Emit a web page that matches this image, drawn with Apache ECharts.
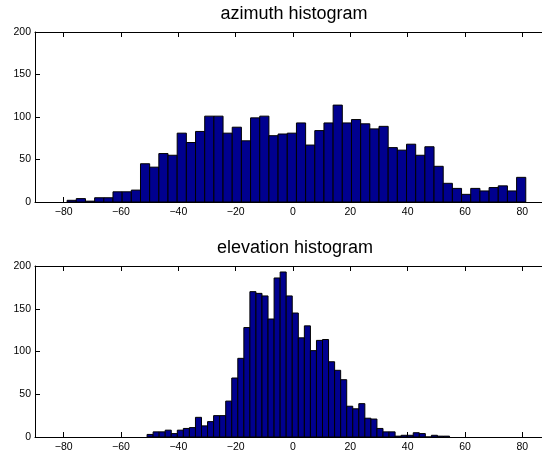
<!DOCTYPE html>
<html><head><meta charset="utf-8">
<script src="https://cdn.jsdelivr.net/npm/echarts@6/dist/echarts.min.js"></script>
<style>html,body{margin:0;padding:0;background:#fff}#c{width:542px;height:452px}</style>
</head><body><div id="c"></div>
<script>
// ---- data ----
const xTicks = [-80, -60, -40, -20, 0, 20, 40, 60, 80];
const yTicks = [0, 50, 100, 150, 200];
const azBinWidth = 3.2;
const azCenters = [-77.2, -74.0, -70.8, -67.6, -64.4, -61.2, -58.0, -54.8, -51.6, -48.4,
  -45.2, -42.0, -38.8, -35.6, -32.4, -29.2, -26.0, -22.8, -19.6, -16.4,
  -13.2, -10.0, -6.8, -3.6, -0.4, 2.8, 6.0, 9.2, 12.4, 15.6,
  18.8, 22.0, 25.2, 28.4, 31.6, 34.8, 38.0, 41.2, 44.4, 47.6,
  50.8, 54.0, 57.2, 60.4, 63.6, 66.8, 70.0, 73.2, 76.4, 79.6];
const azCounts = [2, 4, 1, 5, 5, 12, 12, 14, 45, 41,
  57, 55, 81, 70, 83, 101, 101, 81, 88, 72,
  99, 101, 78, 80, 81, 93, 67, 84, 93, 114,
  93, 97, 92, 86, 89, 64, 61, 68, 55, 65,
  42, 22, 16, 9, 16, 13, 17, 19, 13, 29];
const elBinWidth = 2.11;
const elCenters = [-49.85, -47.74, -45.63, -43.52, -41.41, -39.3, -37.19, -35.08, -32.97, -30.86,
  -28.75, -26.64, -24.53, -22.42, -20.31, -18.2, -16.09, -13.98, -11.87, -9.76,
  -7.65, -5.54, -3.43, -1.32, 0.8, 2.91, 5.02, 7.13, 9.24, 11.35,
  13.46, 15.57, 17.68, 19.79, 21.9, 24.01, 26.12, 28.23, 30.34, 32.45,
  34.56, 36.67, 38.78, 40.89, 43.0, 45.11, 47.22, 49.33, 51.44, 53.55];
const elCounts = [3, 6, 6, 8, 4, 8, 10, 11, 23, 13,
  18, 25, 25, 42, 69, 92, 128, 170, 168, 165,
  138, 186, 193, 165, 145, 116, 130, 101, 113, 114,
  88, 78, 67, 36, 33, 39, 22, 21, 10, 6,
  6, 1, 2, 2, 5, 4, 0, 2, 1, 1];
const titles = ['azimuth histogram', 'elevation histogram'];

// ---- chart ----
const FONT = '"Liberation Sans", Arial, Helvetica, sans-serif';
const fmt = v => String(v).replace('-', '\u2212');
function binData(centers, counts, w) {
  return centers.map((c, i) => [c - w / 2, c + w / 2, counts[i]]);
}
function renderBar(params, api) {
  const p0 = api.coord([api.value(0), 0]);
  const p1 = api.coord([api.value(1), api.value(2)]);
  return {
    type: 'rect',
    shape: { x: p0[0], y: p1[1], width: p1[0] - p0[0], height: p0[1] - p1[1] },
    style: { fill: '#00008F', stroke: '#000000', lineWidth: 1 }
  };
}
const grids = [
  { left: 35, top: 32, width: 516, height: 170, outerBoundsMode: 'none' },
  { left: 35, top: 266, width: 516, height: 171, outerBoundsMode: 'none' }
];
const xAxes = [], yAxes = [];
grids.forEach((g, i) => {
  xAxes.push({
    type: 'value', gridIndex: i, position: 'bottom', min: -90, max: 90,
    axisLine: { show: true, onZero: false, lineStyle: { color: '#000', width: 1 } },
    axisTick: { show: true, inside: true, length: 5, customValues: xTicks, lineStyle: { color: '#000' } },
    axisLabel: { show: true, customValues: xTicks, formatter: fmt, color: '#000', fontSize: 10.5, fontFamily: FONT, margin: 5 },
    splitLine: { show: false }
  });
  xAxes.push({
    type: 'value', gridIndex: i, position: 'top', min: -90, max: 90,
    axisLine: { show: true, onZero: false, lineStyle: { color: '#000', width: 1 } },
    axisTick: { show: true, inside: true, length: 5, customValues: xTicks, lineStyle: { color: '#000' } },
    axisLabel: { show: false },
    splitLine: { show: false }
  });
  yAxes.push({
    type: 'value', gridIndex: i, position: 'left', min: 0, max: 200,
    axisLine: { show: true, onZero: false, lineStyle: { color: '#000', width: 1 } },
    axisTick: { show: true, inside: true, length: 5, customValues: yTicks, lineStyle: { color: '#000' } },
    axisLabel: { show: true, customValues: yTicks, color: '#000', fontSize: 10.5, fontFamily: FONT, margin: 4 },
    splitLine: { show: false }
  });
});
const option = {
  backgroundColor: '#fff',
  animation: false,
  title: [
    { text: titles[0], left: 289, top: 0, textAlign: 'center',
      textStyle: { fontSize: 18, fontWeight: 'normal', color: '#000', fontFamily: FONT } },
    { text: titles[1], left: 290, top: 234, textAlign: 'center',
      textStyle: { fontSize: 18, fontWeight: 'normal', color: '#000', fontFamily: FONT } }
  ],
  grid: grids,
  xAxis: xAxes,
  yAxis: yAxes,
  series: [
    { type: 'custom', xAxisIndex: 0, yAxisIndex: 0, renderItem: renderBar,
      encode: { x: [0, 1], y: 2 }, data: binData(azCenters, azCounts, azBinWidth), clip: true },
    { type: 'custom', xAxisIndex: 2, yAxisIndex: 1, renderItem: renderBar,
      encode: { x: [0, 1], y: 2 }, data: binData(elCenters, elCounts, elBinWidth), clip: true }
  ]
};
echarts.init(document.getElementById('c'), null, { renderer: 'canvas' }).setOption(option);
</script></body></html>
